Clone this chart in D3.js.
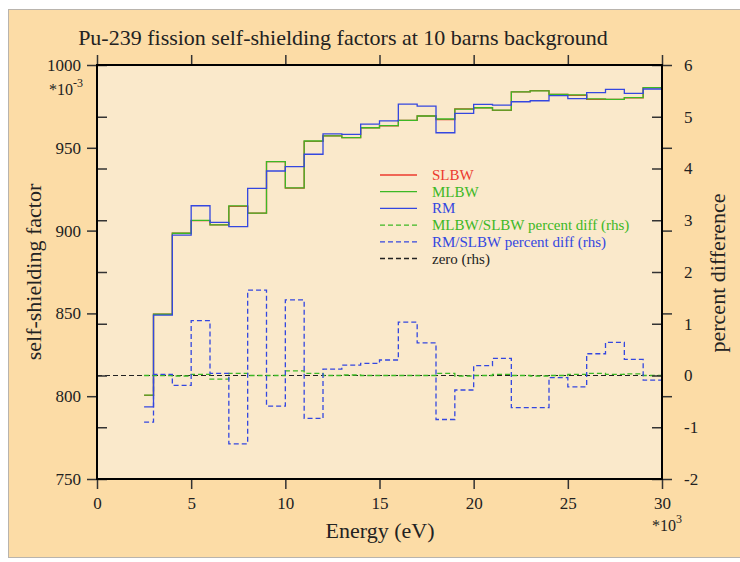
<!DOCTYPE html>
<html>
<head>
<meta charset="utf-8">
<script src="https://cdn.jsdelivr.net/npm/d3@7"></script>
<style>
  html, body { margin: 0; padding: 0; background: #fff; }
  svg text { font-family: "Liberation Serif", "DejaVu Serif", serif; fill: #222; }
</style>
</head>
<body>
<svg id="chart" width="740" height="562"></svg>
<script>
// bin edges in keV (energy axis is labelled *10^3 eV)
const edges = [2.5, 3, 4, 5, 6, 7, 8, 9, 10, 11, 12, 13, 14, 15, 16, 17, 18, 19, 20,
  21, 22, 23, 24, 25, 26, 27, 28, 29, 30];

// self-shielding factor *10^-3, one value per bin
const slbw = [800.5, 849.5, 898.5, 906.0, 903.4, 914.6, 910.6, 941.6, 925.6, 953.9,
  957.2, 956.2, 962.0, 963.3, 966.6, 969.2, 967.0, 973.5, 974.2, 972.6,
  983.8, 984.5, 982.3, 981.7, 979.2, 979.2, 980.1, 986.3];
const mlbw = [800.7, 849.5, 898.4, 906.2, 903.5, 914.9, 910.6, 941.6, 925.8, 954.1,
  957.2, 956.2, 962.1, 963.4, 966.6, 969.2, 967.4, 973.4, 974.2, 972.8,
  983.8, 984.4, 982.2, 981.9, 979.5, 979.3, 980.3, 986.3];
const rm = [793.6, 849.0, 897.3, 915.0, 905.0, 902.4, 925.5, 936.0, 938.6, 946.1,
  958.4, 958.1, 964.3, 966.2, 976.4, 975.2, 959.1, 970.8, 976.2, 975.8,
  977.8, 978.4, 981.5, 979.7, 983.3, 985.3, 982.9, 985.5];

// percent differences (right hand scale)
const mlbwPct = [0, 0, -0.01, 0.02, -0.07, 0.04, 0, 0, 0.09, 0.04,
  0, 0.01, 0, 0, 0, 0, 0.04, -0.01, 0, 0.02,
  0, -0.01, 0, 0.02, 0.04, 0.02, 0.03, 0];
const rmPct = [-0.90, 0.02, -0.19, 1.06, 0.04, -1.32, 1.65, -0.59, 1.46, -0.83,
  0.125, 0.20, 0.235, 0.30, 1.03, 0.63, -0.85, -0.28, 0.19, 0.33,
  -0.62, -0.62, -0.04, -0.22, 0.42, 0.64, 0.31, -0.09];

const xTicks = [0, 5, 10, 15, 20, 25, 30];
const leftTicks = [750, 800, 850, 900, 950, 1000];
const rightTicks = [-2, -1, 0, 1, 2, 3, 4, 5, 6];

const RED = '#ec3a2e', GREEN = '#3cb825', BLUE = '#3447e0';
const SERIF = '"Liberation Serif", "DejaVu Serif", serif';

const svg = d3.select('#chart');
const margin = { top: 65, right: 78, bottom: 83, left: 97 };
const width = 740, height = 562;

const x = d3.scaleLinear().domain([0, 30]).range([margin.left, width - margin.right]);
const yL = d3.scaleLinear().domain([750, 1000]).range([height - margin.bottom, margin.top]);
const yR = d3.scaleLinear().domain([-2, 6]).range([height - margin.bottom, margin.top]);

// outer panel
svg.append('rect')
  .attr('x', 8.5).attr('y', 9.5)
  .attr('width', 740).attr('height', 548)
  .attr('fill', '#fcdca6')
  .attr('stroke', '#b9b4ad');

// plot area
svg.append('rect')
  .attr('x', x(0)).attr('y', yL(1000))
  .attr('width', x(30) - x(0)).attr('height', yL(750) - yL(1000))
  .attr('fill', '#fae9cb');

// build step points, last bin carried to the final edge
const steps = vals => edges.map((e, i) => [e, vals[Math.min(i, vals.length - 1)]]);

const lineL = d3.line().x(d => x(d[0])).y(d => yL(d[1])).curve(d3.curveStepAfter);
const lineR = d3.line().x(d => x(d[0])).y(d => yR(d[1])).curve(d3.curveStepAfter);

const series = [
  { data: slbw, color: RED, line: lineL, dash: null },
  { data: mlbw, color: GREEN, line: lineL, dash: null },
  { data: rm, color: BLUE, line: lineL, dash: null },
  { data: mlbwPct, color: GREEN, line: lineR, dash: '5,3' },
  { data: rmPct, color: BLUE, line: lineR, dash: '5,3' }
];

// zero line on rhs
svg.append('path')
  .attr('d', lineR([[0, 0], [30, 0]]))
  .attr('fill', 'none')
  .attr('stroke', '#222')
  .attr('stroke-width', 1.2)
  .attr('stroke-dasharray', '5,3');

series.forEach(s => {
  svg.append('path')
    .attr('d', s.line(steps(s.data)))
    .attr('fill', 'none')
    .attr('stroke', s.color)
    .attr('stroke-width', 1.3)
    .attr('stroke-dasharray', s.dash);
});

// axes
const styleAxis = g => {
  g.attr('font-family', null);
  g.select('.domain').remove();
  g.selectAll('line').attr('stroke', '#333').attr('stroke-width', 1.5);
  g.selectAll('text')
    .attr('font-size', 17)
    .style('font-family', SERIF)
    .style('fill', '#222');
};
const plain = d => String(d);

svg.append('g')
  .attr('transform', `translate(${x(0)},0)`)
  .call(d3.axisLeft(yL).tickValues(leftTicks).tickSize(10).tickPadding(6).tickFormat(plain))
  .call(styleAxis);
svg.append('g')
  .attr('transform', `translate(${x(0)},0)`)
  .call(d3.axisRight(yR).tickValues(rightTicks).tickSize(10).tickFormat(''))
  .call(styleAxis);
svg.append('g')
  .attr('transform', `translate(${x(30)},0)`)
  .call(d3.axisRight(yR).tickValues(rightTicks).tickSize(-10).tickPadding(22).tickFormat(plain))
  .call(styleAxis);
svg.append('g')
  .attr('transform', `translate(${x(30)},0)`)
  .call(d3.axisRight(yL).tickValues(leftTicks).tickSize(10).tickFormat(''))
  .call(styleAxis);
svg.append('g')
  .attr('transform', `translate(0,${yL(750)})`)
  .call(d3.axisBottom(x).tickValues(xTicks).tickSize(10).tickPadding(8).tickFormat(plain))
  .call(styleAxis);
svg.append('g')
  .attr('transform', `translate(0,${yL(1000)})`)
  .call(d3.axisTop(x).tickValues(xTicks).tickSize(10).tickFormat(''))
  .call(styleAxis);

// frame
svg.append('rect')
  .attr('x', x(0)).attr('y', yL(1000))
  .attr('width', x(30) - x(0)).attr('height', yL(750) - yL(1000))
  .attr('fill', 'none')
  .attr('stroke', '#000')
  .attr('stroke-width', 2);

// title and axis titles
svg.append('text')
  .attr('x', 343).attr('y', 45)
  .attr('text-anchor', 'middle')
  .attr('font-size', 22)
  .text('Pu-239 fission self-shielding factors at 10 barns background');

svg.append('text')
  .attr('transform', 'translate(41,272) rotate(-90)')
  .attr('text-anchor', 'middle')
  .attr('font-size', 22)
  .text('self-shielding factor');

svg.append('text')
  .attr('transform', 'translate(725,273) rotate(-90)')
  .attr('text-anchor', 'middle')
  .attr('font-size', 22)
  .text('percent difference');

svg.append('text')
  .attr('x', 380).attr('y', 538)
  .attr('text-anchor', 'middle')
  .attr('font-size', 22)
  .text('Energy (eV)');

// scale multipliers
const mult = svg.append('text').attr('x', 49).attr('y', 95).attr('font-size', 16);
mult.append('tspan').text('*10');
mult.append('tspan').attr('dy', -8).attr('font-size', 12).text('-3');

const multX = svg.append('text').attr('x', 652).attr('y', 531).attr('font-size', 16);
multX.append('tspan').text('*10');
multX.append('tspan').attr('dy', -8).attr('font-size', 12).text('3');

// legend
const legendItems = [
  { label: 'SLBW', color: RED, dash: null, text: RED },
  { label: 'MLBW', color: GREEN, dash: null, text: GREEN },
  { label: 'RM', color: BLUE, dash: null, text: BLUE },
  { label: 'MLBW/SLBW percent diff (rhs)', color: GREEN, dash: '5,3', text: GREEN },
  { label: 'RM/SLBW percent diff (rhs)', color: BLUE, dash: '5,3', text: BLUE },
  { label: 'zero (rhs)', color: '#222', dash: '5,3', text: '#222' }
];

const legend = svg.append('g').attr('transform', 'translate(380,175)');
legendItems.forEach((d, i) => {
  const row = legend.append('g').attr('transform', `translate(0,${i * 16.7})`);
  row.append('line')
    .attr('x1', 0).attr('x2', 37)
    .attr('stroke', d.color)
    .attr('stroke-width', 1.3)
    .attr('stroke-dasharray', d.dash);
  row.append('text')
    .attr('x', 52).attr('y', 5)
    .attr('font-size', 15)
    .style('fill', d.text)
    .text(d.label);
});
</script>
</body>
</html>
